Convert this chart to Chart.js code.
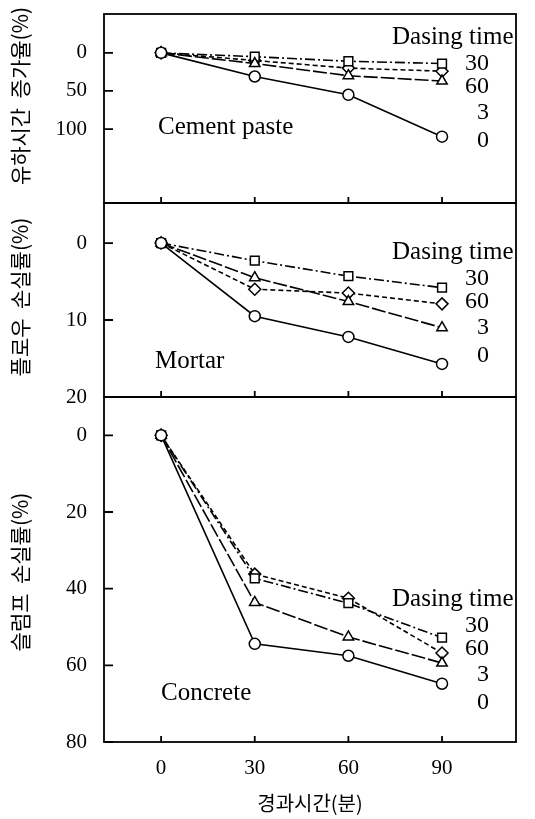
<!DOCTYPE html>
<html>
<head>
<meta charset="utf-8">
<script src="https://cdn.jsdelivr.net/npm/chart.js@4.4.0/dist/chart.umd.min.js"></script>
<style>
  body { margin: 0; background: #fff; }
  #wrap { position: relative; width: 535px; height: 819px; }
  #wrap canvas { position: absolute; left: 0; top: 0; }
</style>
</head>
<body>
<div id="wrap">
  <canvas id="paste" width="535" height="819"></canvas>
  <canvas id="mortar" width="535" height="819"></canvas>
  <canvas id="concrete" width="535" height="819"></canvas>
</div>
<script>
// elapsed time (min) and dosing-time series
const elapsedMinutes = [0, 30, 60, 90];
const minuteTicks = [0, 30, 60, 90];

const pasteDose0 = [0, 31, 55, 110];
const pasteDose3 = [0, 14, 30, 37];
const pasteDose30 = [0, 5, 11, 14];
const pasteDose60 = [0, 10, 20, 24];
const pasteTicks = [0, 50, 100];

const mortarDose0 = [0, 9.5, 12.2, 15.7];
const mortarDose3 = [0, 4.5, 7.6, 11.0];
const mortarDose30 = [0, 2.3, 4.3, 5.8];
const mortarDose60 = [0, 6.0, 6.5, 7.9];
const mortarTicks = [0, 10, 20];

const concreteDose0 = [0, 54.4, 57.5, 64.8];
const concreteDose3 = [0, 43.6, 52.6, 59.4];
const concreteDose30 = [0, 37.3, 43.8, 52.8];
const concreteDose60 = [0, 36.2, 42.5, 56.8];
const concreteTicks = [0, 20, 40, 60, 80];

const serif = "'Liberation Serif', 'Times New Roman', serif";
const korean = "'Noto Sans CJK KR', sans-serif";

Chart.defaults.font.family = serif;
Chart.defaults.color = '#000';

// marker + line style per dosing time
const doseStyle = {
  '0':  { pointStyle: 'circle', radius: 5.5, dash: [] },
  '3':  { pointStyle: 'triangle', radius: 6, dash: [14, 3] },
  '30': { pointStyle: 'rect', radius: 6.2, dash: [10, 3, 2, 3] },
  '60': { pointStyle: 'rectRot', radius: 6, dash: [5, 3] }
};

function series(label, values) {
  let s = doseStyle[label];
  return {
    label: label,
    data: elapsedMinutes.map(function(m, i) { return { x: m, y: values[i] }; }),
    borderColor: '#000',
    borderWidth: 1.6,
    borderDash: s.dash,
    pointStyle: s.pointStyle,
    pointRadius: s.radius,
    pointBackgroundColor: '#fff',
    pointBorderColor: '#000',
    pointBorderWidth: 1.5,
    tension: 0
  };
}

const panelDecor = {
  id: 'panelDecor',
  afterDraw(chart, args, opts) {
    let ctx = chart.ctx;
    let a = chart.chartArea;
    let xs = chart.scales.x, ys = chart.scales.y;
    ctx.save();
    ctx.strokeStyle = '#000';
    ctx.lineWidth = 1.8;
    ctx.strokeRect(a.left, a.top, a.right - a.left, a.bottom - a.top);
    ctx.beginPath();
    ys.ticks.forEach(function(t) {
      let y = ys.getPixelForValue(t.value);
      ctx.moveTo(a.left, y); ctx.lineTo(a.left + 9, y);
    });
    xs.ticks.forEach(function(t) {
      let x = xs.getPixelForValue(t.value);
      ctx.moveTo(x, a.bottom); ctx.lineTo(x, a.bottom - 6);
    });
    ctx.stroke();

    ctx.fillStyle = '#000';
    ctx.textBaseline = 'middle';
    opts.texts.forEach(function(t) {
      ctx.font = t.size + 'px ' + serif;
      ctx.textAlign = t.align || 'left';
      ctx.fillText(t.text, t.x, t.y);
    });

    ctx.translate(opts.titleX, opts.titleY);
    ctx.rotate(-Math.PI / 2);
    ctx.textAlign = 'center';
    ctx.font = '21px ' + korean;
    ctx.fillText(opts.title, 0, 0);
    ctx.restore();
  }
};

function legendTexts(top) {
  // "Dasing time" block, top = y of the heading
  return [
    { text: 'Dasing time', x: 392, y: top, size: 25 },
    { text: '30', x: 489, y: top + 27, size: 24, align: 'right' },
    { text: '60', x: 489, y: top + 50, size: 24, align: 'right' },
    { text: '3', x: 489, y: top + 76, size: 24, align: 'right' },
    { text: '0', x: 489, y: top + 104, size: 24, align: 'right' }
  ];
}

function makePanel(id, p) {
  let ctx = document.getElementById(id).getContext('2d');
  let isLast = !!p.xTitle;
  return new Chart(ctx, {
    type: 'line',
    data: {
      datasets: [
        series('0', p.d0),
        series('3', p.d3),
        series('30', p.d30),
        series('60', p.d60)
      ]
    },
    options: {
      responsive: false,
      animation: false,
      clip: false,
      layout: { padding: { left: 0, right: 19, top: p.top, bottom: isLast ? 0 : 819 - p.bottom } },
      plugins: {
        legend: { display: false },
        tooltip: { enabled: false },
        panelDecor: { texts: p.texts, title: p.title, titleX: 20, titleY: p.titleY }
      },
      scales: {
        x: {
          type: 'linear',
          min: -18.3,
          max: 113.7,
          grid: { display: false },
          border: { display: false },
          afterBuildTicks: function(scale) { scale.ticks = minuteTicks.map(function(v) { return { value: v }; }); },
          afterFit: function(scale) {
            scale.height = isLast ? 819 - p.bottom : 0;
            scale.paddingLeft = 0;
            scale.paddingRight = 0;
          },
          ticks: { display: isLast, font: { size: 21 }, padding: 6, maxRotation: 0 },
          title: {
            display: isLast,
            text: p.xTitle || '',
            font: { family: korean, size: 20 },
            padding: { top: 0, bottom: 4 }
          }
        },
        y: {
          type: 'linear',
          reverse: true,
          min: p.yMin,
          max: p.yMax,
          grid: { display: false },
          border: { display: false },
          afterBuildTicks: function(scale) { scale.ticks = p.ticks.map(function(v) { return { value: v }; }); },
          afterFit: function(scale) {
            scale.width = 104;
            scale.paddingTop = 0;
            scale.paddingBottom = 0;
          },
          ticks: { font: { size: 21 }, padding: 9 }
        }
      }
    },
    plugins: [panelDecor]
  });
}

makePanel('paste', {
  d0: pasteDose0, d3: pasteDose3, d30: pasteDose30, d60: pasteDose60,
  ticks: pasteTicks, yMin: -51, yMax: 197, top: 14, bottom: 203,
  title: '유하시간  증가율(%)', titleY: 96,
  texts: legendTexts(37).concat([{ text: 'Cement paste', x: 158, y: 127, size: 25 }])
});

makePanel('mortar', {
  d0: mortarDose0, d3: mortarDose3, d30: mortarDose30, d60: mortarDose60,
  ticks: mortarTicks, yMin: -5.2, yMax: 20, top: 203, bottom: 397,
  title: '플로우  손실률(%)', titleY: 297,
  texts: legendTexts(252).concat([{ text: 'Mortar', x: 155, y: 361, size: 25 }])
});

makePanel('concrete', {
  d0: concreteDose0, d3: concreteDose3, d30: concreteDose30, d60: concreteDose60,
  ticks: concreteTicks, yMin: -10, yMax: 80, top: 397, bottom: 742,
  title: '슬럼프  손실률(%)', titleY: 572,
  xTitle: '경과시간(분)',
  texts: legendTexts(599).concat([{ text: 'Concrete', x: 161, y: 693, size: 25 }])
});
</script>
</body>
</html>
